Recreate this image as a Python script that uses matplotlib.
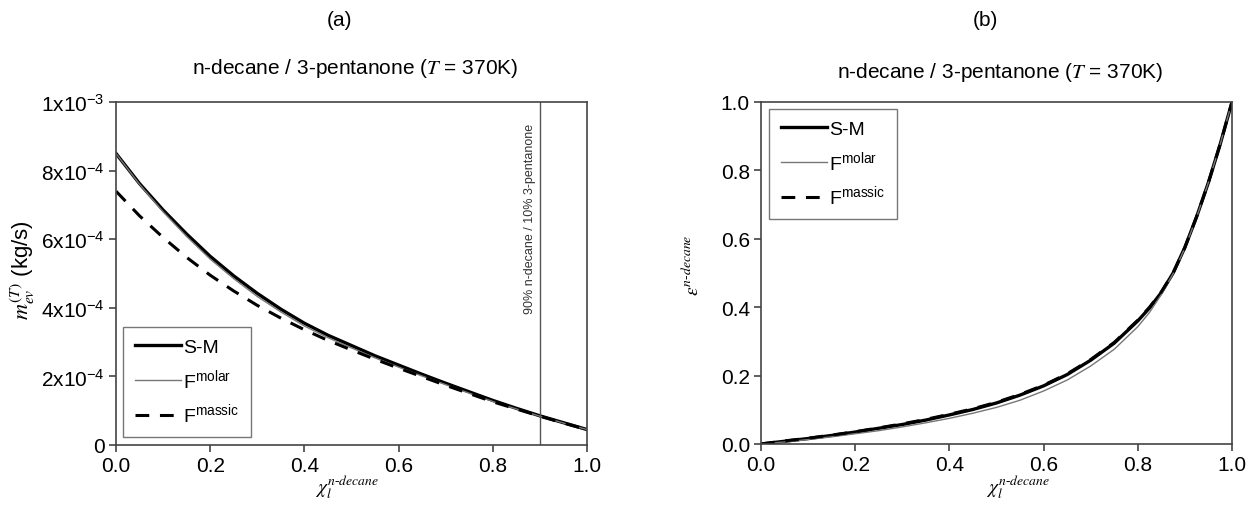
import matplotlib
matplotlib.use("Agg")
import matplotlib.pyplot as plt
from matplotlib.ticker import FixedLocator, FixedFormatter

plt.rcParams['font.family'] = ['Liberation Sans', 'DejaVu Sans']
plt.rcParams['mathtext.fontset'] = 'custom'
plt.rcParams['mathtext.rm'] = 'Liberation Sans'
plt.rcParams['mathtext.it'] = 'Liberation Sans:italic'
plt.rcParams['mathtext.bf'] = 'Liberation Sans:bold'

# (a) evaporation rate vs n-decane liquid fraction, units of 1e-4 kg/s
x_a = [0.0, 0.05, 0.1, 0.15, 0.2, 0.25, 0.3, 0.35, 0.4, 0.45, 0.5,
       0.55, 0.6, 0.65, 0.7, 0.75, 0.8, 0.85, 0.9, 0.95, 1.0]
sm_a = [8.5, 7.62, 6.85, 6.15, 5.5, 4.93, 4.42, 3.96, 3.55, 3.2, 2.9,
        2.6, 2.33, 2.06, 1.8, 1.55, 1.3, 1.07, 0.85, 0.65, 0.45]
molar_a = [8.5, 7.6, 6.8, 6.08, 5.42, 4.85, 4.33, 3.88, 3.47, 3.13, 2.83,
           2.54, 2.27, 2.01, 1.76, 1.51, 1.27, 1.05, 0.84, 0.64, 0.45]
massic_a = [7.4, 6.68, 6.05, 5.47, 4.95, 4.49, 4.07, 3.7, 3.36, 3.05, 2.77,
            2.5, 2.24, 1.99, 1.74, 1.5, 1.26, 1.05, 0.84, 0.64, 0.45]
scale_a = 1e-4

# (b) evaporated fraction of n-decane
x_b = [0.0, 0.05, 0.1, 0.15, 0.2, 0.25, 0.3, 0.35, 0.4, 0.45, 0.5, 0.55, 0.6,
       0.65, 0.7, 0.75, 0.8, 0.825, 0.85, 0.875, 0.9, 0.925, 0.95, 0.975, 1.0]
sm_b = [0.0, 0.008, 0.016, 0.025, 0.035, 0.046, 0.057, 0.07, 0.085, 0.101, 0.12, 0.143, 0.17,
        0.203, 0.245, 0.295, 0.36, 0.398, 0.443, 0.5, 0.575, 0.665, 0.765, 0.877, 1.0]
molar_b = [0.0, 0.006, 0.013, 0.021, 0.03, 0.039, 0.05, 0.062, 0.075, 0.09, 0.107, 0.128, 0.155,
           0.187, 0.228, 0.277, 0.343, 0.385, 0.437, 0.498, 0.573, 0.664, 0.765, 0.877, 1.0]
massic_b = [0.0, 0.009, 0.017, 0.026, 0.036, 0.047, 0.059, 0.072, 0.087, 0.103, 0.122, 0.145, 0.172,
            0.205, 0.247, 0.297, 0.362, 0.4, 0.445, 0.5, 0.575, 0.665, 0.765, 0.877, 1.0]

yticks_a = [0, 2e-4, 4e-4, 6e-4, 8e-4, 1e-3]
yticklabels_a = ['0', '2x10$^{-4}$', '4x10$^{-4}$', '6x10$^{-4}$', '8x10$^{-4}$', '1x10$^{-3}$']
title = 'n-decane / 3-pentanone ($T$ = 370K)'
labels = ['S-M', 'F$^{\\rm molar}$', 'F$^{\\rm massic}$']

fig = plt.figure(figsize=(12.59, 5.10), dpi=100)
ax1 = fig.add_axes([116 / 1259, 64 / 510, 471 / 1259, 343 / 510])
ax2 = fig.add_axes([761 / 1259, 65 / 510, 471 / 1259, 342 / 510])

spine_c = '#444444'


def style(ax):
    for s in ['top', 'right', 'left', 'bottom']:
        ax.spines[s].set_color(spine_c)
        ax.spines[s].set_linewidth(1.2)
    ax.tick_params(direction='out', length=5, width=1.2, color=spine_c,
                   labelsize=15, top=False, right=False, pad=3)
    ax.set_xlim(0, 1)
    ax.set_xticks([0, 0.2, 0.4, 0.6, 0.8, 1.0])
    ax.set_xticklabels(['0.0', '0.2', '0.4', '0.6', '0.8', '1.0'])


def curves(ax, x, sm, molar, massic, k=1.0):
    l1, = ax.plot(x, [v * k for v in sm], color='black', lw=2.4)
    l2, = ax.plot(x, [v * k for v in molar], color='#777777', lw=1.0)
    l3, = ax.plot(x, [v * k for v in massic], color='black', lw=2.2, dashes=(4.5, 3.5))
    return [l1, l2, l3]


def legend(ax, handles, loc, anchor):
    ax.legend(handles, labels, loc=loc, bbox_to_anchor=anchor, borderaxespad=0,
              fontsize=14, handlelength=2.4, handletextpad=0.1, labelspacing=0.55,
              borderpad=0.6, fancybox=False, edgecolor='#777777', framealpha=1)


# panel (a)
h = curves(ax1, x_a, sm_a, molar_a, massic_a, scale_a)
style(ax1)
ax1.set_ylim(0, 1e-3)
ax1.yaxis.set_major_locator(FixedLocator(yticks_a))
ax1.yaxis.set_major_formatter(FixedFormatter(yticklabels_a))
ax1.axvline(0.9, color='#555555', lw=1.0)
ax1.text(0.9 - 0.008, 0.94e-3, '90% n-decane / 10% 3-pentanone', rotation=90,
         ha='right', va='top', fontsize=9, color='#333333')
legend(ax1, h, 'lower left', (0.015, 0.023))
ax1.text(0.507, 1.102, title, transform=ax1.transAxes, ha='center', va='center',
         fontsize=15, math_fontfamily='stix')
ax1.set_ylabel('$m_{ev}^{(T)}$ (kg/s)', fontsize=16, math_fontfamily='stix')
ax1.yaxis.set_label_coords(-0.168, 0.513)
ax1.set_xlabel('$\\chi_l^{n\\text{-}decane}$', fontsize=14, math_fontfamily='stix')
ax1.xaxis.set_label_coords(0.49, -0.08)

# panel (b)
h = curves(ax2, x_b, sm_b, molar_b, massic_b)
style(ax2)
ax2.set_ylim(0, 1.0)
ax2.set_yticks([0, 0.2, 0.4, 0.6, 0.8, 1.0])
ax2.set_yticklabels(['0.0', '0.2', '0.4', '0.6', '0.8', '1.0'])
legend(ax2, h, 'upper left', (0.017, 0.98))
ax2.text(0.507, 1.09, title, transform=ax2.transAxes, ha='center', va='center',
         fontsize=15, math_fontfamily='stix')
ax2.set_ylabel('$\\varepsilon^{n\\text{-}decane}$', fontsize=14, math_fontfamily='stix')
ax2.yaxis.set_label_coords(-0.123, 0.526)
ax2.set_xlabel('$\\chi_l^{n\\text{-}decane}$', fontsize=14, math_fontfamily='stix')
ax2.xaxis.set_label_coords(0.546, -0.083)

fig.text(340 / 1259, 1 - 20 / 510, '(a)', ha='center', va='center', fontsize=15)
fig.text(985 / 1259, 1 - 20 / 510, '(b)', ha='center', va='center', fontsize=15)

fig.savefig('out.png', dpi=100, facecolor='white')
